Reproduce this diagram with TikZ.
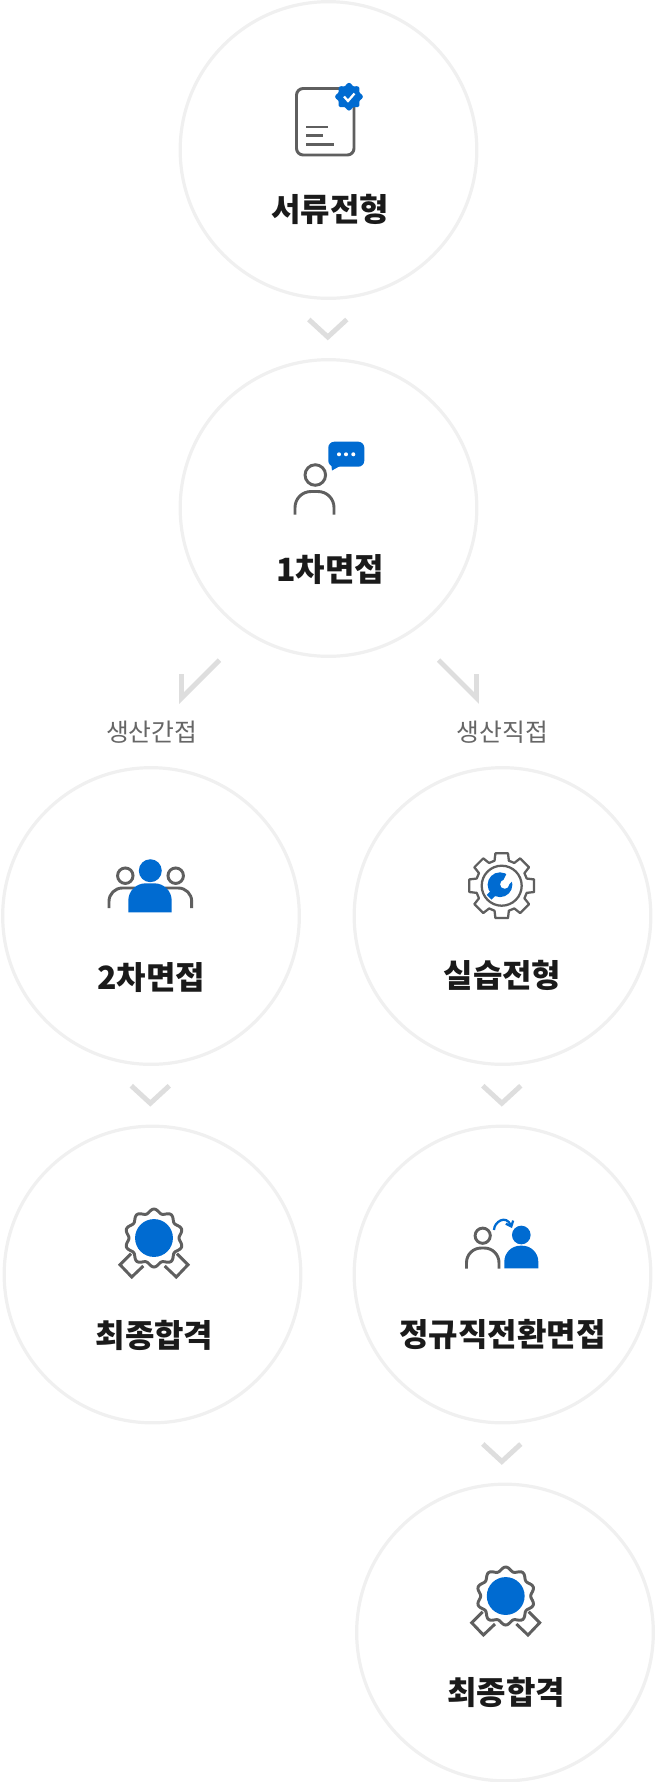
\documentclass[tikz,border=0pt]{standalone}
\usepackage{fontspec}
\setmainfont{Noto Sans CJK KR}
\definecolor{ringgray}{HTML}{F0F0F0}
\definecolor{chevgray}{HTML}{DEDEDE}
\definecolor{icongray}{HTML}{5F5F5F}
\definecolor{iconblue}{HTML}{006BD1}
\definecolor{inkdark}{HTML}{1A1A1A}
\definecolor{subgray}{HTML}{666666}
\usetikzlibrary{arrows.meta, calc}

% one unit is one pixel of the reference
\tikzset{
  x=0.75pt, y=-0.75pt,
  stage/.style={circle, draw=ringgray, line width=2.4pt, fill=white, minimum size=222.5pt, inner sep=0pt},
  stagelabel/.style={font=\fontsize{24}{27}\selectfont\bfseries, text=inkdark, inner sep=0pt},
  tracklabel/.style={font=\fontsize{18.6}{22}\selectfont, text=subgray, inner sep=0pt},
  chevline/.style={draw=chevgray, line width=3.7pt, miter limit=10},
  iconline/.style={draw=icongray, line width=2.2pt},
  iconthin/.style={draw=icongray, line width=1.7pt},
  iconfill/.style={fill=iconblue, draw=none},
  chevron/.pic={\draw[chevline] (-19,-9.5) -- (0,8) -- (19,-9.5);},
  medal/.pic={
    \draw[iconline] plot[domain=0:360, samples=121, smooth] ({(27-2*cos(10*\x))*cos(\x)}, {(27-2*cos(10*\x))*sin(\x)}) -- cycle;
    \fill[iconfill] (0,0) circle (14.2pt);
    \draw[iconline] (-23,15.7) -- (-34,26.7) -- (-22.3,39) -- (-10.7,28);
    \draw[iconline] (23,15.7) -- (34,26.7) -- (22.3,39) -- (10.7,28);
  }
}

\begin{document}
\begin{tikzpicture}
\useasboundingbox (0,0) rectangle (656,1782);

% Stages
\node[stage] (doc) at (328.5,150) {};
\node[stage] (int1) at (328.5,508) {};
\node[stage] (int2) at (151,916) {};
\node[stage] (lab) at (502.5,916) {};
\node[stage] (pass1) at (152.5,1274.5) {};
\node[stage] (conv) at (502.5,1274.5) {};
\node[stage] (pass2) at (505,1632.5) {};

% Labels
\node[stagelabel] (doclbl) at (330,209) {서류전형};
\node[stagelabel] (int1lbl) at (330,570) {1차면접};
\node[stagelabel] (int2lbl) at (151,978) {2차면접};
\node[stagelabel] (lablbl) at (502.5,975) {실습전형};
\node[stagelabel] (pass1lbl) at (154.5,1335) {최종합격};
\node[stagelabel] (convlbl) at (502.5,1334) {정규직전환면접};
\node[stagelabel] (pass2lbl) at (506,1692) {최종합격};
\node[tracklabel] (indirect) at (151.7,732) {생산간접};
\node[tracklabel] (direct) at (502.5,732) {생산직접};

% Chevrons
\foreach \a/\b in {doc/int1, int2/pass1, lab/conv, conv/pass2} {
  \path ($(\a.south)!.5!(\a.south |- \b.north)$) ++(-0.7,0) pic {chevron};
}
\coordinate (tipL) at (181.5,698);
\coordinate (tipR) at (476.5,698);
\draw[chevline] (tipL) ++(38,-38) -- (tipL) -- ++(0,-24);
\draw[chevline] (tipR) ++(-38,-38) -- (tipR) -- ++(0,-24);

% Document icon
\draw[iconline, rounded corners=5pt] (296.5,88.5) rectangle (354,155);
\draw[iconline] (306,127) -- (328,127);
\draw[iconline] (306,135.7) -- (323,135.7);
\draw[iconline] (306,144.3) -- (334,144.3);
\fill[iconfill] plot[domain=0:360, samples=73, smooth] ({349+(12.6+1.2*cos(8*\x))*cos(\x)}, {96.7+(12.6+1.2*cos(8*\x))*sin(\x)}) -- cycle;
\draw[white, line width=1.7pt] (344,96.5) -- (348,101) -- (354.5,93.5);

% Person with bubble
\draw[iconline] (315.3,475) circle (7.7pt);
\draw[iconline, rounded corners=12pt] (295,514.5) -- (295,491.5) -- (334,491.5) -- (334,514.5);
\fill[iconfill, rounded corners=4.5pt] (328.3,441.7) rectangle (364.3,466.7);
\fill[iconfill] (331,462) -- (332,470.5) -- (340,466) -- cycle;
\foreach \x in {339,346,353.3} {
  \fill[white] (\x,454.3) circle (1.5pt);
}

% Group icon
\draw[iconline] (125.3,875.7) circle (5.8pt);
\draw[iconline] (175.7,875.7) circle (5.8pt);
\draw[iconline, rounded corners=10pt] (109,908) -- (109,888) -- (135,888);
\draw[iconline, rounded corners=10pt] (191.7,908) -- (191.7,888) -- (165,888);
\fill[iconfill] (150.3,870.7) circle (8.6pt);
\fill[iconfill] (128.3,912.3) [rounded corners=13pt] -- (128.3,883.3) -- (171.7,883.3) [sharp corners] -- (171.7,912.3) -- cycle;

% Gear icon
\begin{scope}[shift={(501.7,885.7)}]
  \draw[iconthin, line join=round] (-16:26) \foreach \k in {0,...,7} {
    -- ({45*\k-16}:26) -- ({45*\k-11}:33) -- ({45*\k+11}:33) -- ({45*\k+16}:26)
  } -- cycle;
  \draw[iconthin] (0,0) circle (15pt);
  \fill[iconfill] (-1.7,-1) circle (9.3pt);
  \draw[iconblue, line width=5pt] (-4,3) -- (-12.5,11.5);
  \fill[white] (3,-1.5) circle (3.4pt);
  \fill[white] (0.5,-3) -- (7,-16) -- (14,-8) -- (5.5,0.5) -- cycle;
\end{scope}

% Medals
\path (154,1238) pic {medal};
\path (505.7,1596) pic {medal};

% Switch icon
\draw[iconline] (482.7,1235.7) circle (5.7pt);
\draw[iconline, rounded corners=11pt] (466.5,1268.5) -- (466.5,1248) -- (499,1248) -- (499,1268.5);
\fill[iconfill] (521.3,1235) circle (7pt);
\fill[iconfill] (504.3,1268.3) [rounded corners=12pt] -- (504.3,1245.7) -- (538.3,1245.7) [sharp corners] -- (538.3,1268.3) -- cycle;
\draw[iconblue, line width=1.7pt, -{Straight Barb[length=3.5pt,width=6pt]}] (494,1230) .. controls (494,1222) and (506,1214) .. (512,1228);
\end{tikzpicture}
\end{document}
